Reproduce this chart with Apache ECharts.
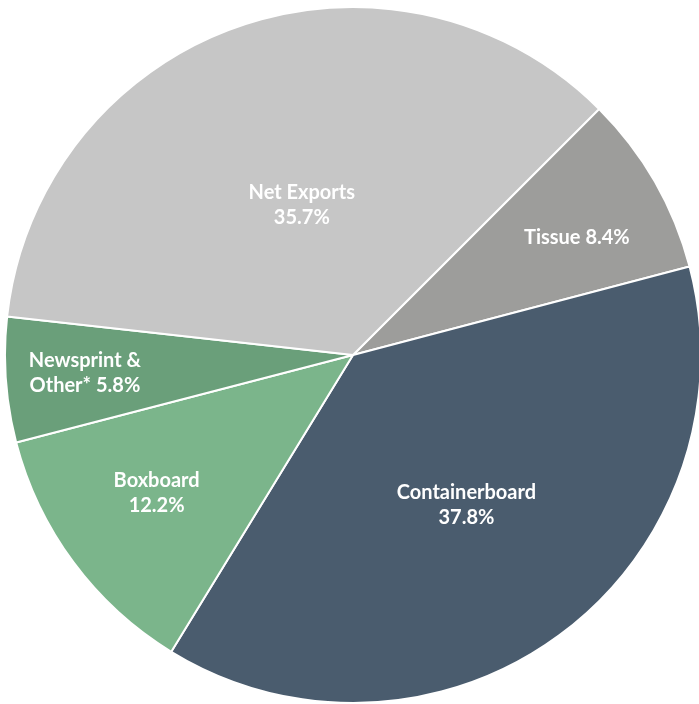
<!DOCTYPE html>
<html>
<head>
<meta charset="utf-8">
<script src="https://cdn.jsdelivr.net/npm/echarts@6/dist/echarts.min.js"></script>
<style>
html,body{margin:0;padding:0;background:#fff;}
#chart{width:699px;height:704px;}
</style>
</head>
<body>
<div id="chart"></div>
<script>
// Data
var categories = ["Tissue", "Containerboard", "Boxboard", "Newsprint &\nOther*", "Net Exports"];
var shares = [8.4, 37.8, 12.2, 5.8, 35.7];
var separators = [" ", "\n", "\n", " ", "\n"];

// Styles
var colors = ["#9d9d9b", "#4a5c6e", "#7bb58b", "#6a9f7a", "#c6c6c6"];
var labelRadiusFactor = [0.727, 0.54, 0.69, 0.772, 0.456];
var labelAngleShift = [-2.1, 0.5, -1.4, -0.3, -0.5];
var CX = 353, CY = 355, R = 348;

var chart = echarts.init(document.getElementById('chart'), null, {renderer: 'canvas'});
var data = categories.map(function (c, i) {
  return {
    name: c,
    value: shares[i],
    itemStyle: {color: colors[i]}
  };
});

chart.setOption({
  animation: false,
  series: [{
    type: 'pie',
    center: [CX, CY],
    radius: [0, R],
    startAngle: 45,
    clockwise: true,
    avoidLabelOverlap: false,
    silent: true,
    itemStyle: {borderColor: '#ffffff', borderWidth: 2},
    label: {
      show: true,
      position: 'inside',
      color: '#ffffff',
      fontFamily: 'Lato',
      fontWeight: 'bold',
      fontSize: 20,
      lineHeight: 25,
      align: 'center',
      formatter: function (p) {
        return p.name + separators[p.dataIndex] + p.value.toFixed(1) + '%';
      }
    },
    labelLine: {show: false},
    labelLayout: function (params) {
      var r = params.labelRect;
      var i = params.dataIndex;
      var lx = r.x + r.width / 2, ly = r.y + r.height / 2;
      var ang = Math.atan2(-(ly - CY), lx - CX) + labelAngleShift[i] * Math.PI / 180;
      var target = labelRadiusFactor[i] * R;
      var tx = CX + target * Math.cos(ang), ty = CY - target * Math.sin(ang);
      return {dx: tx - lx, dy: ty - ly};
    },
    data: data
  }]
});
</script>
</body>
</html>
